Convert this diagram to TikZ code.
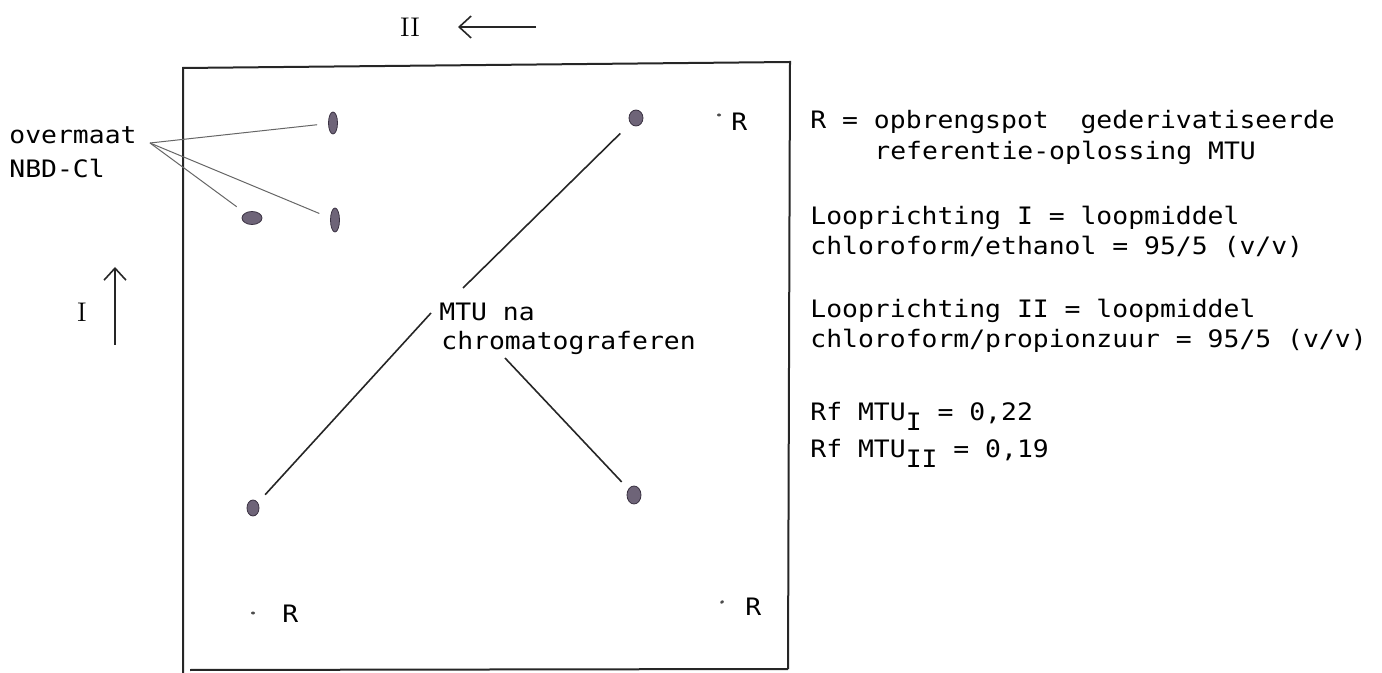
\documentclass[tikz,border=0pt]{standalone}
\usepackage{fontspec}
\newfontfamily\tw{DejaVu Sans Mono}[FakeStretch=1.1]
\usetikzlibrary{arrows.meta,shapes.geometric}
\definecolor{spotfill}{HTML}{6E6478}
\definecolor{spotdraw}{HTML}{3A3242}
\begin{document}
\begin{tikzpicture}[x=0.5pt,y=-0.5pt,
  txt/.style={font={\tw\fontsize{12pt}{15pt}\selectfont}, inner sep=0pt, anchor=base west},
  roman/.style={font={\fontsize{13.5pt}{15pt}\selectfont}, inner sep=0pt},
  spot/.style={ellipse, fill=spotfill, draw=spotdraw, line width=0.4pt, inner sep=0pt},
  frame/.style={line width=1pt, draw=black!85},
  leader/.style={line width=0.8pt, draw=black!85},
  thinleader/.style={line width=0.5pt, draw=black!60},
  dirarrow/.style={line width=0.8pt, draw=black!85, -{Straight Barb[length=6pt,width=11pt]}},
  rdot/.style={ellipse, fill=black!70, inner sep=0pt, minimum width=2pt, minimum height=1.5pt}]
\useasboundingbox (0,0) rectangle (1382,673);

% plate frame
\coordinate (tl) at (183,68);
\coordinate (tr) at (790,62);
\coordinate (br) at (788,669);
\coordinate (bl) at (190,670);
\coordinate (lb) at (183,673);
\draw[frame] (lb) -- (tl) -- (tr) -- (br);
\draw[frame] (br) -- (bl);

% direction II
\node[roman] (lII) at (410,27) {II};
\coordinate (IIs) at (536,27);
\coordinate (IIe) at (458,27);
\draw[dirarrow] (IIs) -- (IIe);

% direction I
\node[roman] (lI) at (82,312) {I};
\coordinate (Is) at (115,345);
\coordinate (Ie) at (115,267);
\draw[dirarrow] (Is) -- (Ie);

% spots
\node[spot, minimum width=4.5pt, minimum height=11pt] (spA) at (333,123) {};
\node[spot, minimum width=10pt, minimum height=6.5pt] (spB) at (252,218) {};
\node[spot, minimum width=4.5pt, minimum height=12pt] (spC) at (335,220) {};
\node[spot, minimum width=7pt, minimum height=8pt] (spTR) at (636,118) {};
\node[spot, minimum width=6pt, minimum height=8pt] (spLL) at (253,508) {};
\node[spot, minimum width=7pt, minimum height=9pt] (spLR) at (634,495) {};

% reference spots
\node[rdot] (dTR) at (719,115) {};
\node[rdot] (dLL) at (253,613) {};
\node[rdot, rotate=30] (dLR) at (722,602) {};
\node[txt] (rTR) at (731,131) {R};
\node[txt] (rLL) at (282,622) {R};
\node[txt] (rLR) at (745,615) {R};

% overmaat NBD-Cl
\node[txt] (ov1) at (9,144) {overmaat};
\node[txt] (ov2) at (9,178) {NBD-Cl};
\coordinate (hub) at (150,143);
\draw[thinleader, shorten >=8pt] (hub) -- (spA.center);
\draw[thinleader, shorten >=9.5pt] (hub) -- (spB.center);
\draw[thinleader, shorten >=8.5pt] (hub) -- (spC.center);

% MTU label
\node[txt] (mtu1) at (439,321) {MTU na};
\node[txt] (mtu2) at (441,350) {chromatograferen};
\coordinate (mtuA) at (463,288);
\coordinate (mtuB) at (431,313);
\coordinate (mtuC) at (505,358);
\draw[leader, shorten <=11pt] (spTR.center) -- (mtuA);
\draw[leader, shorten >=9pt] (mtuB) -- (spLL.center);
\draw[leader, shorten >=9pt] (mtuC) -- (spLR.center);

% legend
\node[txt] (t1) at (810,129) {R = opbrengspot\ \ gederivatiseerde};
\node[txt] (t2) at (874,160) {referentie-oplossing MTU};
\node[txt] (t3) at (810,225) {Looprichting I = loopmiddel};
\node[txt] (t4) at (810,255) {chloroform/ethanol = 95/5 (v/v)};
\node[txt] (t5) at (810,318) {Looprichting II = loopmiddel};
\node[txt] (t6) at (810,348) {chloroform/propionzuur = 95/5 (v/v)};
\node[txt] (t7) at (810,421) {Rf MTU\raisebox{-5pt}{I} = 0,22};
\node[txt] (t8) at (810,458) {Rf MTU\raisebox{-5pt}{II} = 0,19};
\end{tikzpicture}
\end{document}
